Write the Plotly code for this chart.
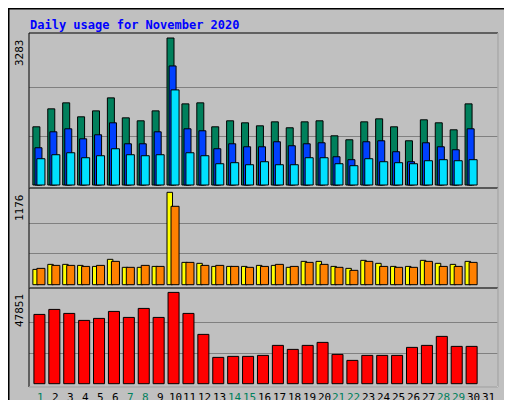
import plotly.graph_objects as go

days = list(range(1, 32))
day_labels = [str(d) for d in days]
weekend_days = [1, 7, 8, 14, 15, 21, 22, 28, 29]
hits = [1300,1701,1835,1523,1656,1946,1500,1434,1656,3283,1812,1835,1300,1434,1389,1322,1411,1278,1411,1434,1099,1010,1411,1478,1300,988,1456,1389,1233,1812,None]
files = [832,1188,1255,1032,1122,1389,921,921,1188,2659,1255,1211,810,921,854,854,966,877,921,943,631,565,966,988,743,520,943,854,787,1255,None]
pages = [587,676,720,609,654,810,676,654,676,2124,720,654,475,498,453,520,453,453,609,609,475,431,587,520,498,475,542,565,542,565,None]
visits = [195,259,259,246,233,323,221,221,233,1176,284,272,233,233,233,246,246,221,297,297,233,208,310,272,233,233,310,272,259,297,None]
sites = [208,246,246,233,246,297,221,246,233,998,284,246,246,233,221,233,259,233,284,259,221,183,297,233,221,221,297,233,233,284,None]
kbytes = [36317,38936,36841,33174,34222,37888,34745,39460,34745,47851,36841,25841,13793,14317,14317,14841,20079,17984,20079,21650,15365,12222,14841,14841,14841,19031,20079,24793,19555,19555,None]
max_hits, max_visits, max_kb = 3283, 1176, 47851

C_HITS, C_FILES, C_PAGES = "#00805c", "#0040ff", "#00e0ff"
C_VIS, C_SITES, C_KB = "#ffff00", "#ff8000", "#ff0000"
FONT = "DejaVu Sans Mono"

fig = go.Figure()
def bar(y, color, off, w, ax):
    fig.add_trace(go.Bar(x=days, y=y, marker=dict(color=color, line=dict(color="black", width=1)),
                         offset=off, width=w, xaxis="x" + ax, yaxis="y" + ax, showlegend=False, hoverinfo="skip"))
bar(hits, C_HITS, -0.54, 0.47, "")
bar(files, C_FILES, -0.40, 0.47, "")
bar(pages, C_PAGES, -0.27, 0.54, "")
bar(visits, C_VIS, -0.54, 0.37, "2")
bar(sites, C_SITES, -0.27, 0.54, "2")
bar(kbytes, C_KB, -0.47, 0.74, "3")

xd = [21/512, 490/512]
xr = [0.2, 31.67]
def yax(dom, rng, m):
    return dict(domain=dom, range=rng, tickvals=[m/3, 2*m/3], showticklabels=False, showgrid=True,
                gridcolor="#808080", gridwidth=1, zeroline=False, fixedrange=True)
def xax(a):
    return dict(domain=xd, range=xr, anchor=a, showticklabels=False, showgrid=False, zeroline=False)
fig.update_layout(
    width=512, height=400, margin=dict(l=0, r=0, t=0, b=0),
    paper_bgcolor="#c0c0c0", plot_bgcolor="#c0c0c0", barmode="overlay",
    font=dict(family=FONT, size=11, color="black"),
    xaxis=xax("y"), xaxis2=xax("y2"), xaxis3=xax("y3"),
    yaxis=yax([220/400, 375/400], [-67, 3395], max_hits),
    yaxis2=yax([120/400, 220/400], [-42, 1231], max_visits),
    yaxis3=yax([21/400, 120/400], [-1730, 50157], max_kb),
)
shapes = [
    dict(type="rect", xref="paper", yref="paper", x0=0.001, y0=0.001, x1=0.999, y1=0.999, line=dict(color="black", width=2)),
    dict(type="line", xref="paper", yref="paper", x0=0.006, y0=0.006, x1=0.994, y1=0.006, line=dict(color="#808080", width=3)),
    dict(type="line", xref="paper", yref="paper", x0=0.994, y0=0.006, x1=0.994, y1=0.994, line=dict(color="#808080", width=3)),
]
for y0, y1 in [(220/400, 375/400), (120/400, 220/400), (21/400, 120/400)]:
    shapes.append(dict(type="rect", xref="paper", yref="paper", x0=xd[0], x1=xd[1], y0=y0, y1=y1, line=dict(color="black", width=1)))
    shapes.append(dict(type="line", xref="paper", yref="paper", x0=xd[0], x1=xd[1], y0=y0, y1=y0, line=dict(color="white", width=1)))
    shapes.append(dict(type="line", xref="paper", yref="paper", x0=xd[1], x1=xd[1], y0=y0, y1=y1, line=dict(color="white", width=1)))
fig.update_layout(shapes=shapes)

ann = [
    dict(text="<b>Daily usage for November 2020</b>", x=20/512, y=1-8/400, xanchor="left", yanchor="top",
         xref="paper", yref="paper", font=dict(color="#0000ff", size=12, family=FONT)),
]
for val, ytop in [(max_hits, 29), (max_visits, 184), (max_kb, 284)]:
    ann.append(dict(text=str(val), textangle=-90, x=20/512, y=1-ytop/400, xanchor="right", yanchor="top",
                    xref="paper", yref="paper", font=dict(size=11, family=FONT)))
for d, l in zip(days, day_labels):
    ann.append(dict(text=l, x=d, xref="x3", y=1-389/400, yref="paper", xanchor="center", yanchor="middle",
                    font=dict(size=11, family=FONT, color=C_HITS if d in weekend_days else "black")))
CW = 5.6
def side(parts, ybottom):
    y = ybottom
    items = []
    for i, (t, c) in enumerate(parts):
        if i > 0:
            items.append(("/", "black", y - CW * 1.5))
            y -= CW * 3
        items.append((t, c, y - CW * len(t) / 2))
        y -= CW * len(t)
    for t, c, ym in items:
        ann.append(dict(text=t, textangle=-90, x=501/512, y=1-ym/400, xref="paper", yref="paper",
                        xanchor="center", yanchor="middle", font=dict(size=9.5, family=FONT, color=c)))
side([("Pages", C_PAGES), ("Files", C_FILES), ("Hits", C_HITS)], 137)
side([("Sites", C_SITES), ("Visits", C_VIS)], 277)
side([("KBytes", C_KB)], 377)
for a in ann:
    a.update(showarrow=False)
fig.update_layout(annotations=ann)
fig.write_html("out.html")
